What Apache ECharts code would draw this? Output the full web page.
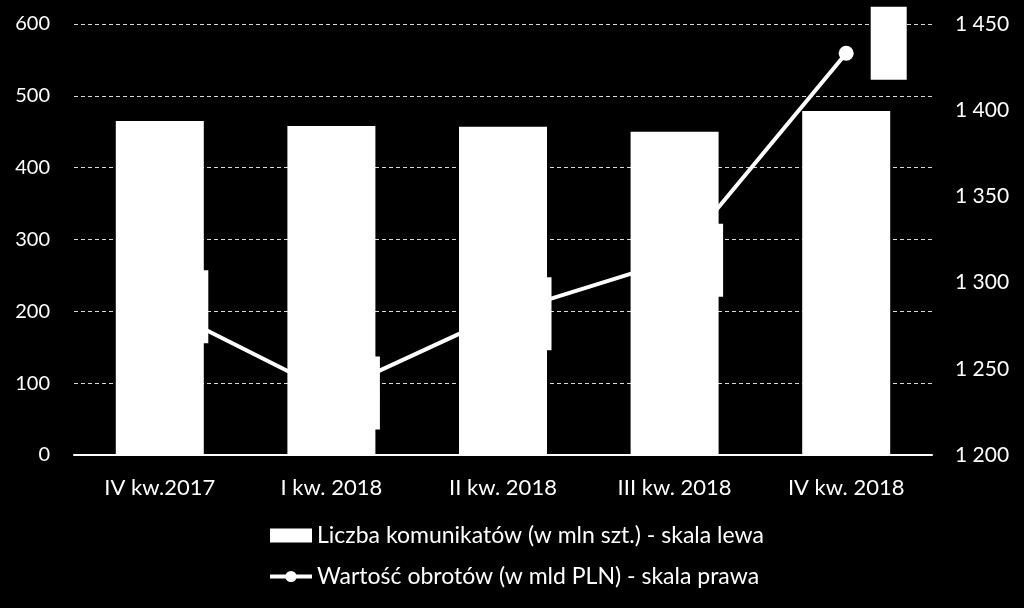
<!DOCTYPE html>
<html>
<head>
<meta charset="utf-8">
<script src="https://cdn.jsdelivr.net/npm/echarts@6/dist/echarts.min.js"></script>
<style>html,body{margin:0;padding:0;background:#000}#chart{width:1024px;height:608px}</style>
</head>
<body>
<div id="chart"></div>
<script>
const categories = ["IV kw.2017", "I kw. 2018", "II kw. 2018", "III kw. 2018", "IV kw. 2018"]
const komunikaty = [465, 458, 457, 450, 479]
const obroty = [1286, 1236, 1282, 1313, 1433]
const leftTicks = { min: 0, max: 600, interval: 100 }
const rightTicks = { min: 1200, max: 1450, interval: 50 }
const nameBars = "Liczba komunikatów (w mln szt.) - skala lewa"
const nameLine = "Wartość obrotów (w mld PLN) - skala prawa"

const font = "Lato, 'Open Sans', sans-serif"
const spaced = v => String(v).replace(/\B(?=(\d{3})+(?!\d))/g, " ")

const lineData = obroty.map((v, i) => i === obroty.length - 1
  ? { value: v, label: { distance: 35, offset: [0, -10] } }
  : v)

echarts.init(document.getElementById("chart")).setOption({
  backgroundColor: "#000",
  animation: false,
  textStyle: { fontFamily: font },
  grid: { left: 74, right: 92, top: 24, bottom: 153 },
  legend: {
    orient: "vertical", left: 268, top: 524, padding: 0, itemWidth: 42, itemHeight: 14, itemGap: 18,
    textStyle: { color: "#fff", fontSize: 23, fontFamily: font },
    lineStyle: { width: 4 },
    data: [{ name: nameBars, icon: "rect" }, { name: nameLine }]
  },
  xAxis: {
    type: "category", data: categories,
    axisLine: { lineStyle: { color: "#fff", width: 2 } },
    axisTick: { show: false },
    axisLabel: { color: "#fff", fontSize: 22, margin: 22 }
  },
  yAxis: [
    {
      type: "value", ...leftTicks,
      axisLine: { show: false }, axisTick: { show: false },
      axisLabel: { color: "#fff", fontSize: 20, margin: 24 },
      splitLine: { lineStyle: { color: "#d9d9d9", type: [4, 3], width: 1 } }
    },
    {
      type: "value", ...rightTicks, position: "right",
      axisLine: { show: false }, axisTick: { show: false },
      axisLabel: { color: "#fff", fontSize: 21, margin: 23, formatter: spaced },
      splitLine: { show: false }
    }
  ],
  series: [
    {
      name: nameBars, type: "bar", data: komunikaty, barWidth: 88,
      itemStyle: { color: "#fff" }
    },
    {
      name: nameLine, type: "line", yAxisIndex: 1, data: lineData,
      lineStyle: { color: "#fff", width: 4 },
      itemStyle: { color: "#fff" },
      symbol: "circle", symbolSize: 15,
      label: {
        show: true, position: "right", distance: 23,
        color: "#fff", backgroundColor: "#fff",
        width: 36, height: 73, padding: 0, align: "center", fontSize: 14,
        formatter: p => spaced(p.value)
      }
    }
  ]
})
</script>
</body>
</html>
